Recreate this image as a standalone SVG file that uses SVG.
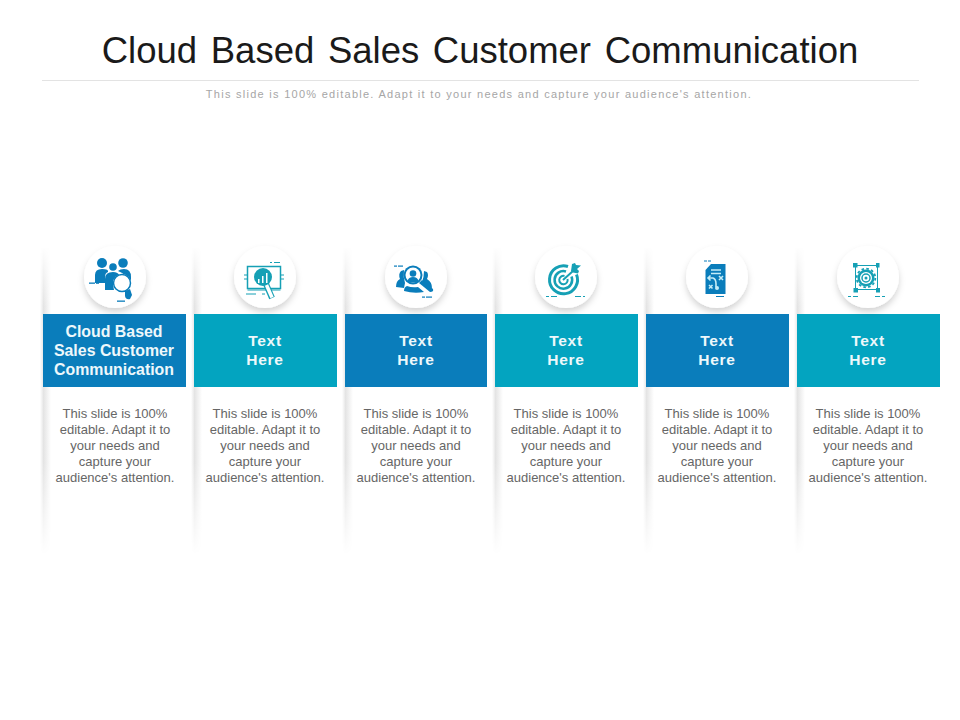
<svg xmlns="http://www.w3.org/2000/svg" width="960" height="720" viewBox="0 0 960 720">
<style>
text{font-family:"Liberation Sans",Arial,sans-serif;text-anchor:middle}
.title{font-size:36.5px;fill:#1a1a1a;word-spacing:3.5px}
.sub{font-size:11px;fill:#a6a6a6;letter-spacing:1.27px}
.band{font-size:15.5px;font-weight:bold;fill:#eef8fb;letter-spacing:.7px}
.band1{font-size:15.9px;font-weight:bold;fill:#eef8fb}
.body{font-size:13px;fill:#666}
.blue{fill:#0a7dbb}.teal{fill:#03a4c0}
.is-b{fill:#0a7dbb;stroke:#0a7dbb}.is-t{fill:#16a0b5;stroke:#16a0b5}
.ln{fill:none;stroke-width:1.5}
.wh{fill:#fff;stroke:none}
.nos{stroke:none}
.disc{fill:#fff;filter:url(#ds)}
</style>
<defs>
<linearGradient id="sh" x1="0" x2="1" y1="0" y2="0"><stop offset="0" stop-color="#fff"/><stop offset=".28" stop-color="#e8e8e8"/><stop offset=".32" stop-color="#e4e4e4"/><stop offset="1" stop-color="#fff"/></linearGradient>
<linearGradient id="fade" x1="0" x2="0" y1="0" y2="1"><stop offset="0" stop-color="#000"/><stop offset=".2" stop-color="#fff"/><stop offset=".7" stop-color="#fff"/><stop offset="1" stop-color="#000"/></linearGradient>
<mask id="m" maskUnits="userSpaceOnUse" x="0" y="245" width="960" height="310"><rect x="0" y="245" width="960" height="310" fill="url(#fade)"/></mask>
<filter id="ds" x="-30%" y="-30%" width="160%" height="170%"><feDropShadow dx="0" dy="4" stdDeviation="3" flood-color="#000" flood-opacity=".17"/></filter>
</defs>
<rect width="960" height="720" fill="#fff"/>
<g id="header">
<text class="title" x="480" y="63">Cloud Based Sales Customer Communication</text>
<line x1="42" y1="80.500" x2="919" y2="80.500" stroke="#e3e3e3"/>
<text class="sub" x="479" y="98">This slide is 100% editable. Adapt it to your needs and capture your audience's attention.</text>
</g>
<g id="column-shadows" mask="url(#m)">
<rect x="40" y="248" width="11" height="305" fill="url(#sh)"/>
<rect x="191" y="248" width="11" height="305" fill="url(#sh)"/>
<rect x="342" y="248" width="11" height="305" fill="url(#sh)"/>
<rect x="492" y="248" width="11" height="305" fill="url(#sh)"/>
<rect x="643" y="248" width="11" height="305" fill="url(#sh)"/>
<rect x="794" y="248" width="11" height="305" fill="url(#sh)"/>
</g>
<g id="node-1">
<rect class="blue" x="43" y="314" width="143" height="73"/>
<text class="band1" x="114" y="337">Cloud Based</text><text class="band1" x="114" y="356">Sales Customer</text><text class="band1" x="114" y="375">Communication</text>
<text class="body" x="115" y="418">This slide is 100%</text><text class="body" x="115" y="434">editable. Adapt it to</text><text class="body" x="115" y="450">your needs and</text><text class="body" x="115" y="466">capture your</text><text class="body" x="115" y="482">audience's attention.</text>
<circle class="disc" cx="115" cy="277" r="31"/>
<g class="is-b nos">
<circle cx="102" cy="263" r="5"/><circle cx="123" cy="263" r="4.800"/><circle cx="113" cy="267" r="3.800"/>
<path d="M95 283v-8q0-6 7-6t6 3q-3 1-3 5v6zM118 271q2-2 6-2 7 0 7 8v6h-2q-2-9-11-12zM105 290v-11q0-7 8-7 5 0 7 4-6 2-7 9l1 5z"/>
<circle class="wh" cx="122" cy="283" r="9"/><circle cx="122" cy="283" r="8.500" fill="none" stroke="#0a7dbb" stroke-width="1.500"/>
<path d="M125 291l5-2 2 6-2 4q-4 1-5-3z"/>
<rect x="89" y="282.500" width="6" height="1.300"/><rect x="96" y="282.500" width="3" height="1.300"/><rect x="117" y="300.500" width="8" height="1.300"/>
</g>
</g>
<g id="node-2">
<rect class="teal" x="194" y="314" width="143" height="73"/>
<text class="band" x="265" y="346">Text</text><text class="band" x="265" y="365">Here</text>
<text class="body" x="265" y="418">This slide is 100%</text><text class="body" x="265" y="434">editable. Adapt it to</text><text class="body" x="265" y="450">your needs and</text><text class="body" x="265" y="466">capture your</text><text class="body" x="265" y="482">audience's attention.</text>
<circle class="disc" cx="265" cy="277" r="31"/>
<g class="is-t">
<rect class="ln" x="247.500" y="266.500" width="33" height="22"/>
<path class="ln" d="M247.500 290h33" style="stroke-width:1"/>
<circle class="nos" cx="263" cy="277" r="9"/>
<path class="wh" d="M258 283h1.500v-4H258zM262 283h1.500v-7H262zM266 283h1.500v-10H266z"/>
<path d="M266 284l6 14" style="stroke-width:6;fill:none"/>
<path d="M266.500 285l5.500 12.500" style="stroke:#fff;stroke-width:3.500;fill:none"/>
<path class="ln" d="M244 275h3M244 279h3M281 275h3M281 279h3M246 294h10M262 294h3" style="stroke-width:1"/>
<path class="ln" d="M270 262.500h2M274 262.500h6" style="stroke-width:1"/>
</g>
</g>
<g id="node-3">
<rect class="blue" x="345" y="314" width="142" height="73"/>
<text class="band" x="416" y="346">Text</text><text class="band" x="416" y="365">Here</text>
<text class="body" x="416" y="418">This slide is 100%</text><text class="body" x="416" y="434">editable. Adapt it to</text><text class="body" x="416" y="450">your needs and</text><text class="body" x="416" y="466">capture your</text><text class="body" x="416" y="482">audience's attention.</text>
<circle class="disc" cx="416" cy="277" r="31"/>
<g class="is-b nos">
<path d="M396 287q0-6 4-8-2-5 1-8l3-1q-1 7 1 13l-1 5z"/>
<path d="M432 288q0-6-5-9 2-4 0-7l-3-1q0 6-2 11l5 5z"/>
<path d="M404 291q0-4 3-5 5 2 11 1l6 5q-10 2-20-1z"/>
<circle cx="413" cy="275" r="9.500"/><circle class="wh" cx="413" cy="275" r="7.500"/>
<circle cx="413" cy="273.500" r="3.300"/><path d="M407.500 281q1-4 5.500-4t5.500 4q-2 1.500-5.500 1.500t-5.500-1.500z"/>
<path d="M419 283l3-3 11 9q1 3-3 3z"/>
<rect x="394" y="265.500" width="3" height="1.200"/><rect x="398" y="265.500" width="5" height="1.200"/><rect x="422" y="296.500" width="3" height="1.200"/><rect x="426" y="296.500" width="6" height="1.200"/>
</g>
</g>
<g id="node-4">
<rect class="teal" x="495" y="314" width="143" height="73"/>
<text class="band" x="566" y="346">Text</text><text class="band" x="566" y="365">Here</text>
<text class="body" x="566" y="418">This slide is 100%</text><text class="body" x="566" y="434">editable. Adapt it to</text><text class="body" x="566" y="450">your needs and</text><text class="body" x="566" y="466">capture your</text><text class="body" x="566" y="482">audience's attention.</text>
<circle class="disc" cx="566" cy="277" r="31"/>
<g class="is-t">
<path class="ln" d="M568 266.500a14 14 0 1 0 8.500 8" style="stroke-width:3"/>
<path class="ln" d="M566 271.500a8.800 8.800 0 1 0 5.500 5" style="stroke-width:2.500"/>
<path class="ln" d="M564.500 276a4.200 4.200 0 1 0 3 3" style="stroke-width:2"/>
<path class="ln" d="M563 280l10-9" style="stroke-width:2"/>
<path class="nos" d="M571 271l1-7 3-1 1 2 5 .5-4 3.500 2 2-1 2.500-5-1z"/>
<path class="ln" d="M546 296.500h3M551 296.500h6M575 296.500h6M583 296.500h2" style="stroke-width:1.200"/>
</g>
</g>
<g id="node-5">
<rect class="blue" x="646" y="314" width="143" height="73"/>
<text class="band" x="717" y="346">Text</text><text class="band" x="717" y="365">Here</text>
<text class="body" x="717" y="418">This slide is 100%</text><text class="body" x="717" y="434">editable. Adapt it to</text><text class="body" x="717" y="450">your needs and</text><text class="body" x="717" y="466">capture your</text><text class="body" x="717" y="482">audience's attention.</text>
<circle class="disc" cx="717" cy="277" r="31"/>
<g class="is-b nos">
<path d="M711 264h14.500v30h-20v-24z"/>
<path d="M704 261h3M708 261h3M716 296.500h8" style="stroke:#0a7dbb;stroke-width:1"/>
<g style="fill:none;stroke:#c4ecf7;stroke-width:1.600">
<path d="M711 270h10M711 273.500h10M719 276l4 4M723 276l-4 4M709 285l3.500 3.500M712.500 285l-3.500 3.500"/>
<path d="M708 278h5q3 1 3 6v3M710.500 275.500l-2.500 2.500 2.500 2.500"/>
</g>
<circle cx="717" cy="288" r="2" style="fill:#c4ecf7"/>
</g>
</g>
<g id="node-6">
<rect class="teal" x="797" y="314" width="143" height="73"/>
<text class="band" x="868" y="346">Text</text><text class="band" x="868" y="365">Here</text>
<text class="body" x="868" y="418">This slide is 100%</text><text class="body" x="868" y="434">editable. Adapt it to</text><text class="body" x="868" y="450">your needs and</text><text class="body" x="868" y="466">capture your</text><text class="body" x="868" y="482">audience's attention.</text>
<circle class="disc" cx="868" cy="277" r="31"/>
<g class="is-t">
<rect class="ln" x="855.500" y="265.500" width="22" height="24" style="stroke-width:1"/>
<path class="nos" d="M853 263h4.500v4.500h-4.500zM876 263h3.500v4.500h-3.500zM853.500 288h4.500v4.500h-4.500zM876 288h4v4.500h-4z"/>
<circle class="nos" cx="866" cy="278" r="8.500"/>
<circle cx="866" cy="278" r="9.300" style="fill:none;stroke-width:1.800;stroke-dasharray:2.600 2.270"/>
<circle class="wh" cx="866" cy="278" r="6"/><circle class="ln" cx="866" cy="278" r="4" style="stroke-width:1.500"/><circle class="nos" cx="866" cy="278" r="1.500"/>
<path class="ln" d="M848 296.500h3M853 296.500h5M875 296.500h5M882 296.500h3" style="stroke-width:1"/>
</g>
</g>
</svg>
